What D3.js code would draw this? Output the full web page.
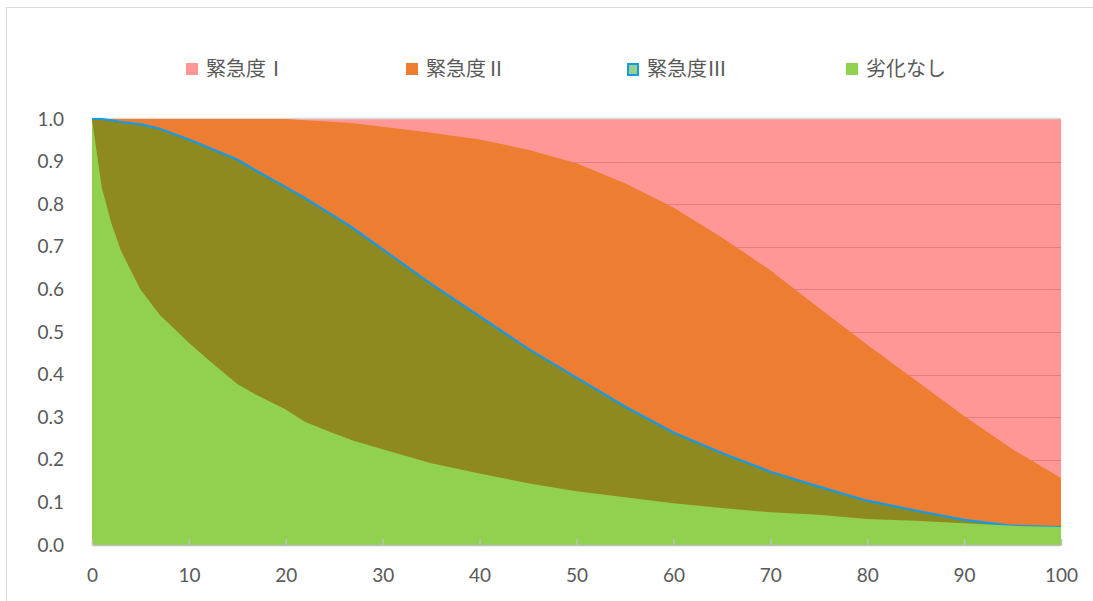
<!DOCTYPE html>
<html>
<head>
<meta charset="utf-8">
<script src="https://cdn.jsdelivr.net/npm/d3@7"></script>
<style>
  html, body { margin: 0; padding: 0; background: #fff; }
  svg { display: block; }
</style>
</head>
<body>
<svg id="chart" width="1093" height="601"></svg>
<script>
// Elapsed-time axis (0–100) shared by all curves
const xs = [0, 1, 2, 3, 5, 7, 10, 12, 15, 17, 20, 22, 25, 27, 30, 35, 40, 45, 50, 55, 60, 65, 70, 75, 80, 85, 90, 95, 100];

// Share of units at each state or better
const urgency1 = xs.map(() => 1.0);
const urgency2 = [1.0, 1.0, 1.0, 1.0, 1.0, 1.0, 1.0, 1.0, 1.0, 1.0, 1.0, 0.997, 0.993, 0.990, 0.982, 0.968, 0.952, 0.928, 0.896, 0.849, 0.792, 0.722, 0.645, 0.557, 0.470, 0.387, 0.303, 0.225, 0.157];
const urgency3 = [1.0, 1.0, 0.997, 0.993, 0.988, 0.977, 0.952, 0.933, 0.905, 0.878, 0.840, 0.814, 0.772, 0.743, 0.694, 0.613, 0.537, 0.461, 0.393, 0.325, 0.264, 0.216, 0.172, 0.137, 0.104, 0.081, 0.059, 0.045, 0.042];
const noDamage = [1.0, 0.84, 0.755, 0.69, 0.60, 0.54, 0.475, 0.435, 0.378, 0.352, 0.318, 0.289, 0.262, 0.245, 0.225, 0.192, 0.168, 0.145, 0.126, 0.112, 0.098, 0.087, 0.077, 0.071, 0.061, 0.057, 0.051, 0.045, 0.042];

const seriesNames = ["緊急度Ⅰ", "緊急度Ⅱ", "緊急度Ⅲ", "劣化なし"];
const xTicks = [0, 10, 20, 30, 40, 50, 60, 70, 80, 90, 100];
const yTicks = [0, 0.1, 0.2, 0.3, 0.4, 0.5, 0.6, 0.7, 0.8, 0.9, 1.0];

const svg = d3.select("#chart");
const W = 1093, H = 601;
const plot = { left: 92, top: 119, width: 969, height: 426 };

// Outer chart frame
svg.append("rect")
  .attr("x", 6.5).attr("y", 7.5)
  .attr("width", W + 10).attr("height", H + 10)
  .attr("fill", "#fff").attr("stroke", "#d9d9d9").attr("stroke-width", 1);

const x = d3.scaleLinear().domain([0, 100]).range([plot.left, plot.left + plot.width]);
const y = d3.scaleLinear().domain([0, 1]).range([plot.top + plot.height, plot.top]);

const areaOf = vals => d3.area()
  .x((d, i) => x(xs[i]))
  .y0(y(0))
  .y1((d, i) => y(vals[i]))
  .curve(d3.curveLinear)(vals);

const g = svg.append("g");

// 緊急度Ⅰ (full coverage)
g.append("path").attr("d", areaOf(urgency1)).attr("fill", "#ff9797");

// Grid lines show through the lightest band only
g.append("g").selectAll("line")
  .data(yTicks.filter(v => v > 0 && v < 1))
  .join("line")
  .attr("x1", plot.left).attr("x2", plot.left + plot.width)
  .attr("y1", d => Math.round(y(d)) + 0.5).attr("y2", d => Math.round(y(d)) + 0.5)
  .attr("stroke", "#e27d82").attr("stroke-width", 1);

// Top boundary line at 1.0
g.append("line")
  .attr("x1", plot.left).attr("x2", plot.left + plot.width)
  .attr("y1", y(1) - 0.5).attr("y2", y(1) - 0.5)
  .attr("stroke", "#d9d9d9").attr("stroke-width", 1.5);

// 緊急度Ⅱ
g.append("path").attr("d", areaOf(urgency2)).attr("fill", "#ed7d31");

// 緊急度Ⅲ with its outline
g.append("path").attr("d", areaOf(urgency3)).attr("fill", "#8e8920");
g.append("path")
  .attr("d", d3.line().x((d, i) => x(xs[i])).y((d, i) => y(d))(urgency3))
  .attr("fill", "none").attr("stroke", "#139be8").attr("stroke-width", 2.2);

// 劣化なし
g.append("path").attr("d", areaOf(noDamage)).attr("fill", "#92d050");

// X axis
const xAxis = svg.append("g")
  .attr("transform", `translate(0,${plot.top + plot.height})`)
  .call(d3.axisBottom(x).tickValues(xTicks).tickSizeInner(-6).tickSizeOuter(0).tickPadding(24));
xAxis.select(".domain").attr("stroke", "#bfbfbf").attr("stroke-width", 1.5);
xAxis.selectAll(".tick line").attr("stroke", "#bfbfbf").attr("stroke-width", 1.5);
xAxis.selectAll(".tick text")
  .attr("fill", "#595959")
  .style("font-family", "Lato, 'Open Sans', sans-serif")
  .style("font-size", "19px");

// Y axis (labels only)
const yAxis = svg.append("g")
  .attr("transform", `translate(${plot.left},0)`)
  .call(d3.axisLeft(y).tickValues(yTicks).tickFormat(d3.format(".1f")).tickSize(0).tickPadding(28));
yAxis.select(".domain").remove();
yAxis.selectAll(".tick text")
  .attr("fill", "#595959")
  .style("font-family", "Lato, 'Open Sans', sans-serif")
  .style("font-size", "19px");

// Legend
const legendX = [186, 406, 627, 846];
const swatch = [
  { fill: "#ff9797", stroke: "none" },
  { fill: "#ed7d31", stroke: "none" },
  { fill: "#98d18c", stroke: "#139be8" },
  { fill: "#92d050", stroke: "none" }
];
const legend = svg.append("g");
seriesNames.forEach((name, i) => {
  const item = legend.append("g").attr("transform", `translate(${legendX[i]},63)`);
  if (swatch[i].stroke === "none") {
    item.append("rect").attr("x", 0).attr("y", 0).attr("width", 12).attr("height", 12).attr("fill", swatch[i].fill);
  } else {
    item.append("rect").attr("x", 1).attr("y", 1).attr("width", 10).attr("height", 11)
      .attr("fill", swatch[i].fill).attr("stroke", swatch[i].stroke).attr("stroke-width", 2);
  }
  item.append("text")
    .attr("x", 20).attr("y", 13)
    .attr("fill", "#595959")
    .style("font-family", "'Noto Sans CJK JP', sans-serif")
    .style("font-size", "20px")
    .text(name);
});
</script>
</body>
</html>
